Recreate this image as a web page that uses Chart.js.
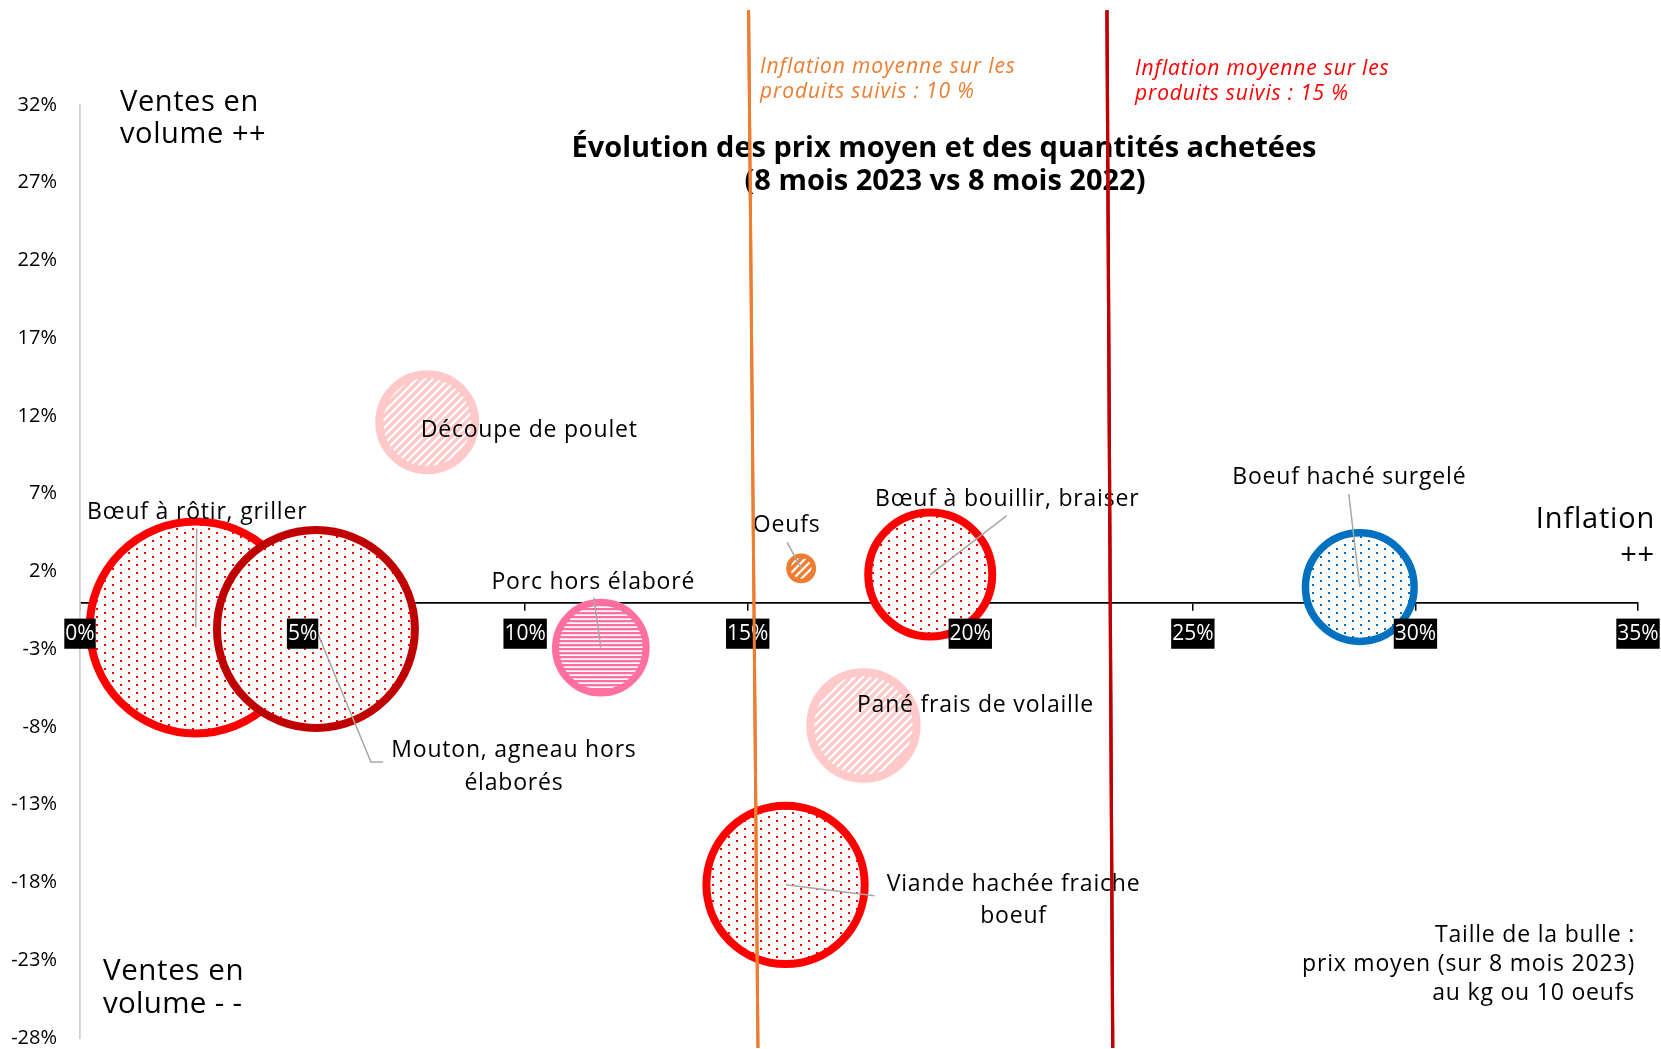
<!DOCTYPE html>
<html lang="fr">
<head>
<meta charset="utf-8">
<script src="https://cdn.jsdelivr.net/npm/chart.js@4.4.1/dist/chart.umd.min.js"></script>
<style>
html,body{margin:0;padding:0;background:#fff;overflow:hidden}
canvas{display:block}
</style>
</head>
<body>
<canvas id="c" width="1661" height="1049" style="width:1661px;height:1049px"></canvas>
<script>
// ---------------- Données ----------------
const produits = [
  "Bœuf à rôtir, griller",
  "Mouton, agneau hors élaborés",
  "Découpe de poulet",
  "Porc hors élaboré",
  "Oeufs",
  "Bœuf à bouillir, braiser",
  "Boeuf haché surgelé",
  "Pané frais de volaille",
  "Viande hachée fraiche boeuf"
];
// inflation (évolution du prix moyen, %)
const inflation = [2.6, 5.3, 7.8, 11.7, 16.2, 19.1, 28.75, 17.6, 15.85];
// évolution des quantités achetées (%)
const volume = [-1.6, -1.7, 11.6, -2.9, 2.2, 1.8, 1.0, -7.9, -18.15];
// prix moyen sur 8 mois 2023 (€/kg ou €/10 oeufs) -> taille de la bulle
const prixMoyen = [25.0, 23.4, 11.8, 11.1, 3.4, 15.0, 13.2, 13.0, 18.9];

const xTicks = [0, 5, 10, 15, 20, 25, 30, 35];
const yTicks = [-28, -23, -18, -13, -8, -3, 2, 7, 12, 17, 22, 27, 32];

// droites d'inflation moyenne
const moyenneOrangeX = [15.02, 15.23];
const moyenneOrangeY = [38.1, -28.65];
const moyenneRougeX = [23.07, 23.2];
const moyenneRougeY = [38.1, -28.65];

// ---------------- Styles ----------------
const FONT = '"Open Sans", "Noto Sans", sans-serif';
const PX_PAR_EURO = 4.4;
const styles = [
  {border:'#FF0000', bw:8,   pat:'dots',  fg:'#FF0000'},
  {border:'#C00000', bw:8,   pat:'dots',  fg:'#FF0000'},
  {border:'#FFC9C9', bw:8,   pat:'diag',  fg:'#FFC9C9'},
  {border:'#FF6F9F', bw:7,   pat:'horiz', fg:'#FF6F9F'},
  {border:'#ED7D31', bw:4.5, pat:'diag',  fg:'#ED7D31'},
  {border:'#FF0000', bw:8,   pat:'dots',  fg:'#FF0000'},
  {border:'#0070C0', bw:7.5, pat:'dots',  fg:'#0070C0'},
  {border:'#FFC9C9', bw:8,   pat:'diag',  fg:'#FFC9C9'},
  {border:'#FF0000', bw:8,   pat:'dots',  fg:'#FF0000'}
];
// position des étiquettes (décalage en px par rapport au centre de la bulle)
const etiquettes = [
  {dx:1.5,  dy:[-108],       leader:[[1,-99]]},
  {dx:198,  dy:[128,160.5],  coupe:3, leader:[[67,133],[55,133]]},
  {dx:102,  dy:[15]},
  {dx:-7.5, dy:[-59],        leader:[[-7,-50]]},
  {dx:-14.5,dy:[-36],        leader:[[-14,-26]]},
  {dx:77,   dy:[-69],        leader:[[76.5,-59]]},
  {dx:-10.5,dy:[-103],       leader:[[-11,-93]]},
  {dx:112,  dy:[-13]},
  {dx:228,  dy:[6,38],       coupe:3, leader:[[89,11]]}
];
const textes = [
  {t:'Évolution des prix moyen et des quantités achetées', x:944, y:157, f:'bold 29px', a:'center', c:'#000', ls:0},
  {t:'(8 mois 2023 vs 8 mois 2022)', x:945, y:190, f:'bold 29px', a:'center', c:'#000', ls:0},
  {t:'Inflation moyenne sur les', x:760, y:73, f:'italic 21px', a:'left', c:'#ED7D31', ls:0.9},
  {t:'produits suivis : 10 %', x:760, y:98, f:'italic 21px', a:'left', c:'#ED7D31', ls:0.9},
  {t:'Inflation moyenne sur les', x:1135, y:75, f:'italic 21px', a:'left', c:'#FF0000', ls:0.85},
  {t:'produits suivis : 15 %', x:1135, y:100, f:'italic 21px', a:'left', c:'#FF0000', ls:0.85},
  {t:'Ventes en', x:120, y:111, f:'29px', a:'left', c:'#000', ls:0.6},
  {t:'volume ++', x:120, y:143, f:'29px', a:'left', c:'#000', ls:0.6},
  {t:'Ventes en', x:103, y:980, f:'29.5px', a:'left', c:'#000', ls:0.6},
  {t:'volume - -', x:103, y:1013, f:'29.5px', a:'left', c:'#000', ls:0.3},
  {t:'Inflation', x:1655, y:528, f:'29px', a:'right', c:'#000', ls:0.8},
  {t:'++', x:1655, y:564, f:'29px', a:'right', c:'#000', ls:0.8},
  {t:'Taille de la bulle :', x:1635, y:942, f:'23px', a:'right', c:'#000', ls:0.8},
  {t:'prix moyen (sur 8 mois 2023)', x:1635, y:971, f:'23px', a:'right', c:'#000', ls:0.8},
  {t:'au kg ou 10 oeufs', x:1635, y:999.5, f:'23px', a:'right', c:'#000', ls:0.8}
];

function motif(type, color){
  const c = document.createElement('canvas');
  const g = c.getContext('2d');
  if (type === 'dots'){
    c.width = 16; c.height = 8;
    g.fillStyle = '#fff'; g.fillRect(0,0,16,8);
    g.fillStyle = color; g.fillRect(0,0,2,2); g.fillRect(8,4,2,2);
  } else if (type === 'horiz'){
    c.width = 4; c.height = 4;
    g.fillStyle = '#fff'; g.fillRect(0,0,4,4);
    g.fillStyle = color; g.fillRect(0,0,4,2.3);
  } else {
    c.width = 8; c.height = 8;
    g.fillStyle = '#fff'; g.fillRect(0,0,8,8);
    g.strokeStyle = color; g.lineWidth = 3.4; g.lineCap = 'square';
    g.beginPath();
    for (const o of [-8, 0, 8]) { g.moveTo(o - 2, 10); g.lineTo(o + 10, -2); }
    g.stroke();
  }
  return g.createPattern(c, 'repeat');
}

const bulles = produits.map((p, i) => ({x: inflation[i], y: volume[i], r: prixMoyen[i] * PX_PAR_EURO - styles[i].bw / 2}));
const ligneOrange = moyenneOrangeX.map((x, i) => ({x, y: moyenneOrangeY[i]}));
const ligneRouge = moyenneRougeX.map((x, i) => ({x, y: moyenneRougeY[i]}));

function txt(ctx, t){
  ctx.font = t.f + ' ' + FONT;
  ctx.fillStyle = t.c;
  ctx.textAlign = t.a;
  ctx.textBaseline = 'alphabetic';
  try { ctx.letterSpacing = (t.ls || 0) + 'px'; } catch(e) {}
  ctx.fillText(t.t, t.x, t.y);
}

const annotations = {
  id: 'annotations',
  afterDatasetDraw(chart, args){
    if (args.index !== 0) return;
    const ctx = chart.ctx;
    const meta = chart.getDatasetMeta(0);
    ctx.save();
    ctx.strokeStyle = '#A6A6A6';
    ctx.lineWidth = 1.5;
    etiquettes.forEach((e, i) => {
      if (!e.leader) return;
      const p = meta.data[i];
      ctx.beginPath();
      ctx.moveTo(p.x, p.y);
      for (let k = e.leader.length - 1; k >= 0; k--) ctx.lineTo(p.x + e.leader[k][0], p.y + e.leader[k][1]);
      ctx.stroke();
    });
    etiquettes.forEach((e, i) => {
      const p = meta.data[i];
      const mots = produits[i].split(' ');
      const lignes = e.coupe ? [mots.slice(0, e.coupe).join(' '), mots.slice(e.coupe).join(' ')] : [produits[i]];
      lignes.forEach((l, k) => txt(ctx, {t:l, x:p.x + e.dx, y:p.y + e.dy[k], f:'23px', a:'center', c:'#000', ls:0.8}));
    });
    textes.forEach(t => txt(ctx, t));
    ctx.restore();
  },
  afterDraw(chart){
    [1, 2].forEach(i => {
      chart.ctx.save();
      chart.getDatasetMeta(i).controller.draw();
      chart.ctx.restore();
    });
  }
};

new Chart(document.getElementById('c'), {
  type: 'bubble',
  data: {
    datasets: [
      {
        type: 'bubble', label: 'Produits', data: bulles, order: 1, clip: false,
        backgroundColor: styles.map(s => motif(s.pat, s.fg)),
        borderColor: styles.map(s => s.border),
        borderWidth: styles.map(s => s.bw),
        hoverRadius: 0
      },
      {
        type: 'line', label: 'Inflation moyenne 10 %', data: ligneOrange, order: 0, clip: false,
        borderColor: '#ED7D31', borderWidth: 3, pointRadius: 0, fill: false, tension: 0
      },
      {
        type: 'line', label: 'Inflation moyenne 15 %', data: ligneRouge, order: 0, clip: false,
        borderColor: '#C00000', borderWidth: 3.2, pointRadius: 0, fill: false, tension: 0
      }
    ]
  },
  options: {
    responsive: false,
    animation: false,
    devicePixelRatio: 1,
    events: [],
    layout: { autoPadding: false, padding: { top: 105, right: 23, bottom: 11, left: 0 } },
    plugins: { legend: { display: false }, tooltip: { enabled: false }, title: { display: false } },
    scales: {
      x: {
        type: 'linear', min: 0, max: 35, position: { y: 0 },
        afterBuildTicks: s => { s.ticks = xTicks.map(v => ({value: v})); },
        afterFit: s => { s.height = 0; s.paddingLeft = 0; s.paddingRight = 0; },
        grid: { display: true, drawOnChartArea: false, drawTicks: true, tickLength: 7, color: '#000', lineWidth: 1.5 },
        border: { display: true, color: '#000', width: 1.8 },
        ticks: {
          z: 1, padding: 12, autoSkip: false, maxRotation: 0, minRotation: 0,
          color: '#fff', showLabelBackdrop: true, backdropColor: '#000',
          backdropPadding: { top: 3, bottom: 3, left: 1, right: 1 },
          font: { family: FONT, size: 21, lineHeight: 1.15 },
          callback: v => v + '%'
        }
      },
      y: {
        type: 'linear', min: -28, max: 32,
        afterBuildTicks: s => { s.ticks = yTicks.map(v => ({value: v})); },
        afterFit: s => { s.width = 80; s.paddingTop = 0; s.paddingBottom = 0; },
        grid: { display: false, drawTicks: false },
        border: { display: true, color: '#D0D0D0', width: 1.8 },
        ticks: {
          padding: 23, color: '#000',
          font: { family: FONT, size: 20 },
          callback: v => v + '%'
        }
      }
    }
  },
  plugins: [annotations]
});
</script>
</body>
</html>
